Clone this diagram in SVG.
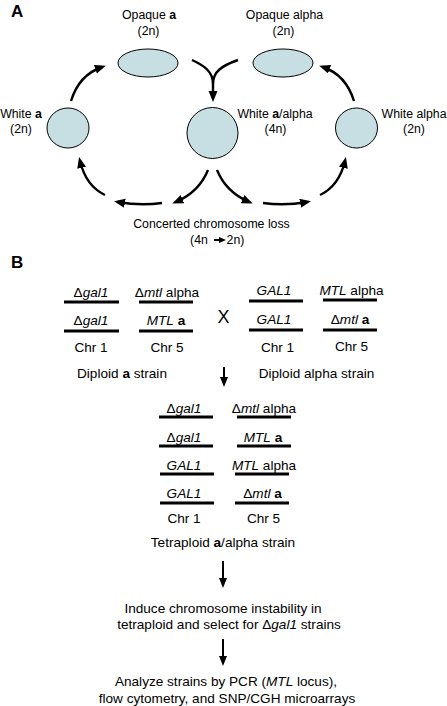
<svg xmlns="http://www.w3.org/2000/svg" width="447" height="706" viewBox="0 0 447 706">
<defs>
<style>
text{font-family:"Liberation Sans",Arial,sans-serif;fill:#000}
.a{font-size:12.3px}
.b{font-size:13.6px}
.lbl{font-size:17px;font-weight:bold}
.i{font-style:italic}
.bd{font-weight:bold}
.cell{fill:#c7dfe3;stroke:#000;stroke-width:1}
.chr{stroke:#000;stroke-width:2.8;fill:none}
.arr{stroke:#000;stroke-width:2.4;fill:none}
.arrb{stroke:#000;stroke-width:2;fill:none}
</style>
<marker id="ah" markerUnits="userSpaceOnUse" markerWidth="12" markerHeight="10" refX="7" refY="4.5" orient="auto">
<path d="M0,0 L11,4.5 L0,9 z" fill="#000"/>
</marker>
<marker id="ahb" markerUnits="userSpaceOnUse" markerWidth="12" markerHeight="10" refX="6" refY="4" orient="auto">
<path d="M0,0 L10,4 L0,8 z" fill="#000"/>
</marker>
<marker id="ahs" markerUnits="userSpaceOnUse" markerWidth="8" markerHeight="8" refX="5" refY="3" orient="auto">
<path d="M0,0 L7,3 L0,6 z" fill="#000"/>
</marker>
</defs>

<text class="lbl" x="11" y="17">A</text>
<text class="lbl" x="11" y="268">B</text>

<g id="opaque-a">
<ellipse class="cell" cx="148" cy="63" rx="30" ry="14"/>
<text class="a" x="149" y="19" text-anchor="middle">Opaque <tspan class="bd">a</tspan></text>
<text class="a" x="148.5" y="35" text-anchor="middle">(2n)</text>
</g>
<g id="opaque-alpha">
<ellipse class="cell" cx="283" cy="63" rx="30" ry="14"/>
<text class="a" x="284.5" y="19" text-anchor="middle">Opaque alpha</text>
<text class="a" x="283.5" y="35" text-anchor="middle">(2n)</text>
</g>
<g id="white-a">
<ellipse class="cell" cx="68" cy="128" rx="21" ry="20"/>
<text class="a" x="21" y="118" text-anchor="middle">White <tspan class="bd">a</tspan></text>
<text class="a" x="21" y="133" text-anchor="middle">(2n)</text>
</g>
<g id="white-a-alpha">
<ellipse class="cell" cx="212.5" cy="133" rx="25.5" ry="25.5"/>
<text class="a" x="275" y="118" text-anchor="middle">White <tspan class="bd">a</tspan>/alpha</text>
<text class="a" x="275.5" y="133" text-anchor="middle">(4n)</text>
</g>
<g id="white-alpha">
<ellipse class="cell" cx="356.5" cy="128" rx="21" ry="20"/>
<text class="a" x="414" y="118" text-anchor="middle">White alpha</text>
<text class="a" x="414" y="133" text-anchor="middle">(2n)</text>
</g>
<g id="loss-label">
<text class="a" x="211.5" y="228" text-anchor="middle">Concerted chromosome loss</text>
<text class="a" x="199" y="244" text-anchor="middle">(4n</text>
<text class="a" x="235.5" y="244" text-anchor="middle">2n)</text>
</g>

<g id="connectors-a">
<path class="arr" marker-end="url(#ah)" d="M71,101 Q79,75 102,67"/>
<path class="arr" marker-end="url(#ah)" d="M354,101 Q346,75 323,67"/>
<path class="arr" d="M192,60 C205,66 213,72 213,84"/>
<path class="arr" marker-end="url(#ah)" d="M238,60 C221,66 213,72 213,84 L213,98"/>
<path class="arr" marker-end="url(#ah)" d="M208,170 Q199,192 176,202"/>
<path class="arr" marker-end="url(#ah)" d="M162,203 Q140,206 118,202"/>
<path class="arr" marker-end="url(#ah)" d="M105,195 Q86,186 80,161"/>
<path class="arr" marker-end="url(#ah)" d="M217,170 Q226,192 249,202"/>
<path class="arr" marker-end="url(#ah)" d="M263,203 Q285,206 307,202"/>
<path class="arr" marker-end="url(#ah)" d="M320,195 Q339,186 345,161"/>
<path class="arrb" marker-end="url(#ahs)" d="M214,240 L224,240"/>
</g>

<g id="diploid-a">
<text class="b" x="91" y="297" text-anchor="middle">Δ<tspan class="i">gal1</tspan></text>
<line class="chr" x1="64" y1="302" x2="119" y2="302"/>
<text class="b" x="167" y="297" text-anchor="middle">Δ<tspan class="i">mtl</tspan> alpha</text>
<line class="chr" x1="139" y1="302" x2="193" y2="302"/>
<text class="b" x="91" y="325" text-anchor="middle">Δ<tspan class="i">gal1</tspan></text>
<line class="chr" x1="64" y1="331" x2="119" y2="331"/>
<text class="b" x="166" y="325" text-anchor="middle"><tspan class="i">MTL</tspan> <tspan class="bd">a</tspan></text>
<line class="chr" x1="139" y1="331" x2="193" y2="331"/>
<text class="b" x="91" y="352" text-anchor="middle">Chr 1</text>
<text class="b" x="167" y="352" text-anchor="middle">Chr 5</text>
<text class="b" x="122" y="378" text-anchor="middle">Diploid <tspan class="bd">a</tspan> strain</text>
</g>
<g id="cross">
<text x="223.5" y="323" text-anchor="middle" style="font-size:18px">X</text>
</g>
<g id="diploid-alpha">
<text class="b" x="274" y="295" text-anchor="middle"><tspan class="i">GAL1</tspan></text>
<line class="chr" x1="249" y1="301" x2="303" y2="301"/>
<text class="b" x="351.5" y="295" text-anchor="middle"><tspan class="i">MTL</tspan> alpha</text>
<line class="chr" x1="323" y1="300" x2="377" y2="300"/>
<text class="b" x="274" y="324" text-anchor="middle"><tspan class="i">GAL1</tspan></text>
<line class="chr" x1="249" y1="330" x2="303" y2="330"/>
<text class="b" x="350" y="324" text-anchor="middle">Δ<tspan class="i">mtl</tspan> <tspan class="bd">a</tspan></text>
<line class="chr" x1="323" y1="330" x2="377" y2="330"/>
<text class="b" x="277.5" y="352" text-anchor="middle">Chr 1</text>
<text class="b" x="351.5" y="351" text-anchor="middle">Chr 5</text>
<text class="b" x="316.5" y="378" text-anchor="middle">Diploid alpha strain</text>
</g>
<g id="tetraploid">
<text class="b" x="184" y="413" text-anchor="middle">Δ<tspan class="i">gal1</tspan></text>
<line class="chr" x1="159" y1="417" x2="213" y2="417"/>
<text class="b" x="264" y="413" text-anchor="middle">Δ<tspan class="i">mtl</tspan> alpha</text>
<line class="chr" x1="237" y1="417" x2="291" y2="417"/>
<text class="b" x="184" y="442" text-anchor="middle">Δ<tspan class="i">gal1</tspan></text>
<line class="chr" x1="159" y1="446" x2="213" y2="446"/>
<text class="b" x="263" y="442" text-anchor="middle"><tspan class="i">MTL</tspan> <tspan class="bd">a</tspan></text>
<line class="chr" x1="237" y1="446" x2="291" y2="446"/>
<text class="b" x="184" y="470" text-anchor="middle"><tspan class="i">GAL1</tspan></text>
<line class="chr" x1="160" y1="474" x2="214" y2="474"/>
<text class="b" x="264" y="470" text-anchor="middle"><tspan class="i">MTL</tspan> alpha</text>
<line class="chr" x1="235" y1="474" x2="289" y2="474"/>
<text class="b" x="184" y="498" text-anchor="middle"><tspan class="i">GAL1</tspan></text>
<line class="chr" x1="160" y1="503" x2="214" y2="503"/>
<text class="b" x="262.5" y="498" text-anchor="middle">Δ<tspan class="i">mtl</tspan> <tspan class="bd">a</tspan></text>
<line class="chr" x1="235" y1="503" x2="289" y2="503"/>
<text class="b" x="184" y="523" text-anchor="middle">Chr 1</text>
<text class="b" x="263.5" y="523" text-anchor="middle">Chr 5</text>
<text class="b" x="223" y="547" text-anchor="middle">Tetraploid <tspan class="bd">a</tspan>/alpha strain</text>
</g>
<g id="induce">
<text class="b" x="223" y="613" text-anchor="middle">Induce chromosome instability in</text>
<text class="b" x="229" y="629" text-anchor="middle">tetraploid and select for Δ<tspan class="i">gal1</tspan> strains</text>
</g>
<g id="analyze">
<text class="b" x="226" y="686" text-anchor="middle">Analyze strains by PCR (<tspan class="i">MTL</tspan> locus),</text>
<text class="b" x="227" y="703" text-anchor="middle">flow cytometry, and SNP/CGH microarrays</text>
</g>

<g id="connectors-b">
<path class="arrb" marker-end="url(#ahb)" d="M224,367 L224,383"/>
<path class="arrb" marker-end="url(#ahb)" d="M223,561 L223,584"/>
<path class="arrb" marker-end="url(#ahb)" d="M223,639 L223,662"/>
</g>
</svg>
